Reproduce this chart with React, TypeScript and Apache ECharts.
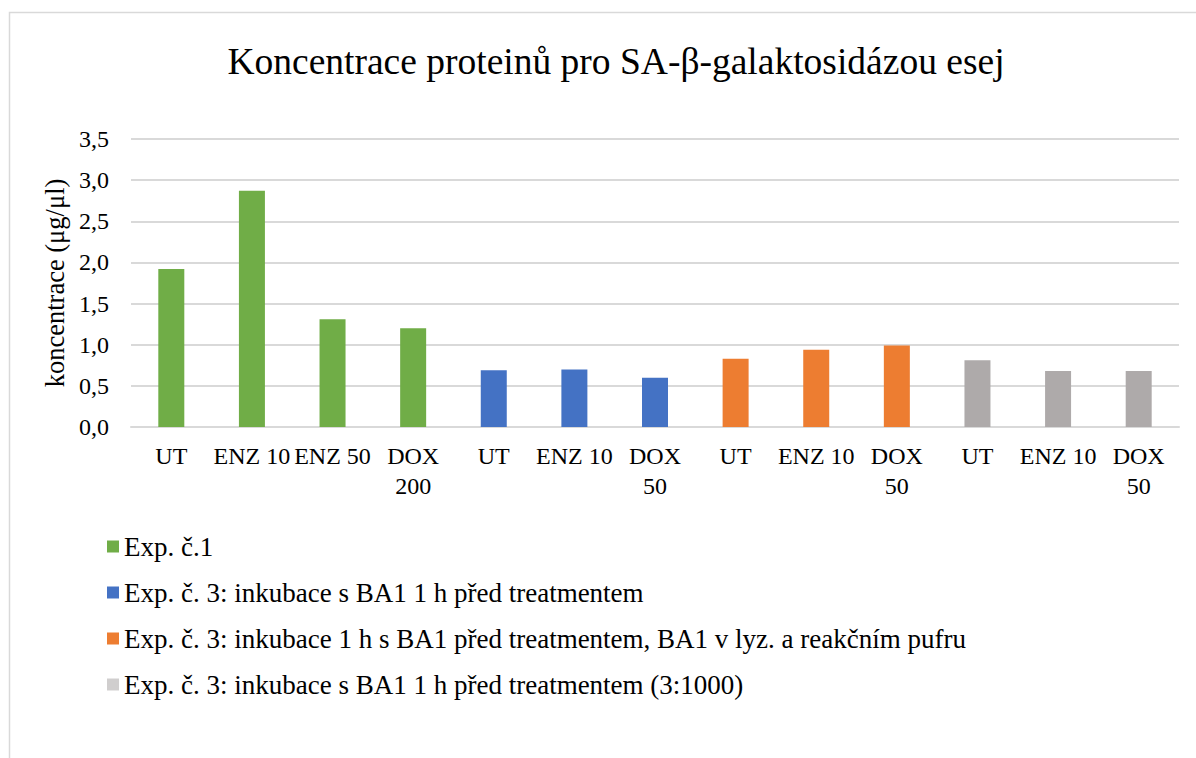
import React, { useEffect, useRef } from "react";
import * as echarts from "echarts";

const categories = ["UT", "ENZ 10", "ENZ 50", "DOX 200", "UT", "ENZ 10", "DOX 50", "UT", "ENZ 10", "DOX 50", "UT", "ENZ 10", "DOX 50"];
const seriesNames = [
  "Exp. č.1",
  "Exp. č. 3: inkubace s BA1 1 h před treatmentem",
  "Exp. č. 3: inkubace 1 h s BA1 před treatmentem, BA1 v lyz. a reakčním pufru",
  "Exp. č. 3: inkubace s BA1 1 h před treatmentem (3:1000)",
];
const exp1 = [1.92, 2.87, 1.31, 1.2, null, null, null, null, null, null, null, null, null];
const exp3a = [null, null, null, null, 0.69, 0.7, 0.6, null, null, null, null, null, null];
const exp3b = [null, null, null, null, null, null, null, 0.83, 0.94, 0.99, null, null, null];
const exp3c = [null, null, null, null, null, null, null, null, null, null, 0.81, 0.68, 0.68];
const yTicks = { min: 0, max: 3.5, interval: 0.5 };

const colors = ["#70AD47", "#4472C4", "#ED7D31", "#AEAAAA"];
const legendColors = ["#70AD47", "#4472C4", "#ED7D31", "#D0CECE"];
const FONT = "Liberation Serif";

export default function App() {
  const ref = useRef<HTMLDivElement>(null);
  useEffect(() => {
    if (!ref.current) return;
    const chart = echarts.init(ref.current, null, { renderer: "svg" });
    const data = [exp1, exp3a, exp3b, exp3c];
    chart.setOption({
      animation: false,
      backgroundColor: "#ffffff",
      title: {
        text: "Koncentrace proteinů pro SA-β-galaktosidázou esej",
        left: 611,
        textAlign: "center",
        top: 37,
        textStyle: { fontFamily: FONT, fontSize: 37.5, fontWeight: "normal", color: "#000" },
      },
      graphic: [
        {
          type: "rect",
          shape: { x: 9.5, y: 12.5, width: 1400, height: 900 },
          style: { fill: "none", stroke: "#d9d9d9", lineWidth: 1.5 },
          silent: true,
        },
      ],
      grid: { left: 131, right: 17, top: 139, bottom: 331, containLabel: false },
      legend: {
        orient: "vertical",
        left: 102,
        top: 528,
        itemGap: 19,
        itemWidth: 12,
        itemHeight: 12,
        icon: "rect",
        textStyle: { fontFamily: FONT, fontSize: 27, color: "#000" },
        data: seriesNames.map((n, i) => ({ name: n, itemStyle: { color: legendColors[i] } })),
      },
      xAxis: {
        type: "category",
        data: categories,
        axisLine: { show: true, lineStyle: { color: "#d9d9d9", width: 2 } },
        axisTick: { show: false },
        axisLabel: {
          interval: 0,
          fontFamily: FONT,
          fontSize: 24,
          color: "#000",
          margin: 14,
          lineHeight: 30,
          formatter: (v: string) => (v.startsWith("DOX") ? v.replace(" ", "\n") : v),
        },
      },
      yAxis: {
        type: "value",
        min: yTicks.min,
        max: yTicks.max,
        interval: yTicks.interval,
        name: "koncentrace (μg/μl)",
        nameLocation: "middle",
        nameGap: 60,
        nameTextStyle: { fontFamily: FONT, fontSize: 26.5, color: "#000" },
        axisLine: { show: false },
        axisTick: { show: false },
        axisLabel: {
          fontFamily: FONT,
          fontSize: 24,
          color: "#000",
          margin: 22,
          formatter: (v: number) => v.toFixed(1).replace(".", ","),
        },
        splitLine: { lineStyle: { color: "#d9d9d9", width: 2 } },
      },
      series: seriesNames.map((n, i) => ({
        name: n,
        type: "bar",
        stack: "total",
        barWidth: 26,
        itemStyle: { color: colors[i] },
        data: data[i].map((v) => (v === null ? "-" : v)),
      })),
    });
    return () => chart.dispose();
  }, []);
  return <div ref={ref} style={{ position: "absolute", left: 0, top: 0, width: 1196, height: 758 }} />;
}
